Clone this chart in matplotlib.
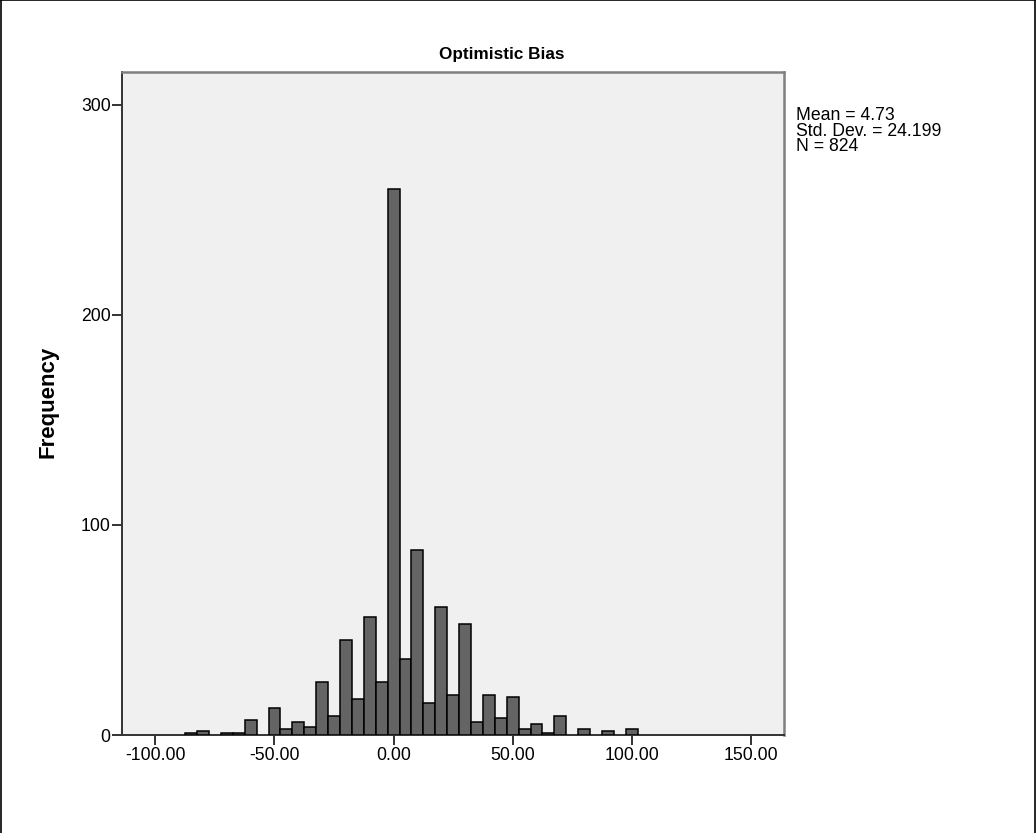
import matplotlib
matplotlib.use("Agg")
import matplotlib.pyplot as plt
from matplotlib.lines import Line2D
import numpy as np

# bin centres (width 5) and counts
bin_centers = [-85, -80, -75, -70, -65, -60, -55, -50, -45, -40, -35, -30, -25, -20,
               -15, -10, -5, 0, 5, 10, 15, 20, 25, 30, 35, 40, 45, 50, 55, 60, 65,
               70, 75, 80, 85, 90, 95, 100]
counts = [1, 2, 0, 1, 1, 7, 0, 13, 3, 6, 4, 25, 9, 45,
          17, 56, 25, 260, 36, 88, 15, 61, 19, 53, 6, 19, 8, 18, 3, 5, 1,
          9, 0, 3, 0, 2, 0, 3]
x_ticks = [-100, -50, 0, 50, 100, 150]
y_ticks = [0, 100, 200, 300]
stats_text = "Mean = 4.73\nStd. Dev. = 24.199\nN = 824"

plt.rcParams['font.family'] = ['Liberation Sans', 'DejaVu Sans']

W, H = 1036, 833
fig = plt.figure(figsize=(W / 100, H / 100), dpi=100)
ax = fig.add_axes([122 / W, 1 - 735 / H, (784 - 122) / W, (735 - 72) / H])
ax.set_facecolor('#f0f0f0')

centers = np.array(bin_centers)
heights = np.array(counts)
keep = heights > 0
ax.bar(centers[keep], heights[keep], width=5, color='#646464',
       edgecolor='black', linewidth=1.1, zorder=3)

ax.set_xlim(-114, 163.9)
ax.set_ylim(0, 315.7)
ax.set_xticks(x_ticks)
ax.set_xticklabels([f"{t:.2f}" for t in x_ticks])
ax.set_yticks(y_ticks)
ax.tick_params(axis='both', direction='out', length=7.2, width=1.4,
               labelsize=12.7, color='#333333')
ax.tick_params(axis='x', pad=1.5)
ax.tick_params(axis='y', pad=1.0)

for side in ['left', 'bottom']:
    ax.spines[side].set_color('#333333')
    ax.spines[side].set_linewidth(1.4)
for side in ['top', 'right']:
    ax.spines[side].set_color('#808080')
    ax.spines[side].set_linewidth(1.8)

fig.text(502 / W, 1 - 59 / H, "Optimistic Bias", fontsize=12.3, fontweight='bold',
         ha='center', va='baseline')
fig.text(47.5 / W, 1 - 402 / H, "Frequency", fontsize=16, fontweight='bold',
         rotation=90, ha='center', va='center')

fig.text(796 / W, 1 - 107 / H, stats_text, fontsize=12.7, va='top',
         ha='left', linespacing=0.9)

# outer frame (left, top, right) around the picture
for xs, ys in [([0.0005, 0.0005], [0, 0.9995]),
               ([0.0005, 0.9995], [0.9995, 0.9995]),
               ([0.9995, 0.9995], [0, 0.9995])]:
    fig.add_artist(Line2D(xs, ys, transform=fig.transFigure, color='black', linewidth=1.2))

fig.savefig("out.png", dpi=100)
